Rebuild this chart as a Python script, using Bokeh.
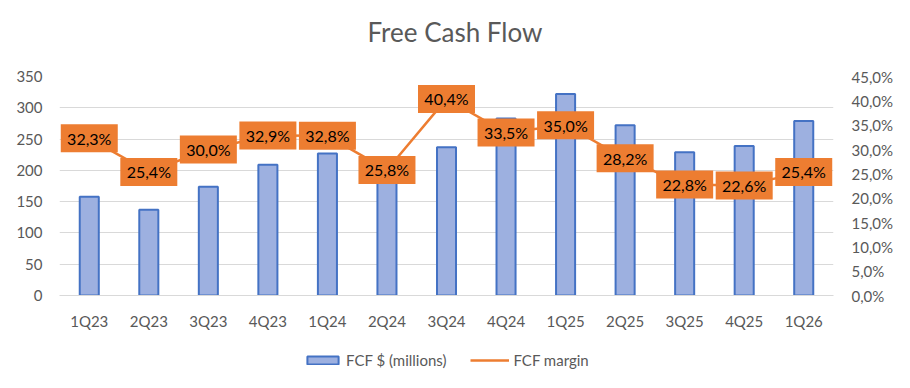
from bokeh.plotting import figure
from bokeh.layouts import column
from bokeh.models import (ColumnDataSource, FactorRange, Range1d, LinearAxis,
                          FixedTicker, CustomJSTickFormatter, Legend, LegendItem, Title)
from bokeh.core.properties import value
from bokeh.embed import file_html
from bokeh.resources import INLINE

quarters = ["1Q23", "2Q23", "3Q23", "4Q23", "1Q24", "2Q24", "3Q24",
            "4Q24", "1Q25", "2Q25", "3Q25", "4Q25", "1Q26"]
fcf = [158, 137, 174, 209, 227, 180, 237, 283, 322, 272, 229, 239, 279]
margin = [32.3, 25.4, 30.0, 32.9, 32.8, 25.8, 40.4, 33.5, 35.0, 28.2, 22.8, 22.6, 25.4]
left_ticks = [0, 50, 100, 150, 200, 250, 300, 350]
right_ticks = [0, 5, 10, 15, 20, 25, 30, 35, 40, 45]

FONT = "Lato"
GREY = "#595959"
ORANGE = "#ED7D31"
BAR_FILL = "#9db0e0"
BAR_LINE = "#4472c4"

labels = [f"{m:.1f}".replace(".", ",") + "%" for m in margin]
src = ColumnDataSource(dict(q=quarters, fcf=fcf, m=margin, lab=labels))

# title strip
tp = figure(frame_width=774, frame_height=1, output_backend="svg", toolbar_location=None,
            title=None, x_range=Range1d(0, 1), y_range=Range1d(0, 1),
            x_axis_location=None, y_axis_location=None,
            min_border_left=59, min_border_right=61, min_border_top=0, min_border_bottom=0)
tp.outline_line_color = None
tp.xgrid.visible = False
tp.ygrid.visible = False
tp.add_layout(Title(text="Free Cash Flow", align="left", offset=308, text_font=FONT,
                    text_font_size="26px", text_font_style="normal",
                    text_color=GREY, standoff=26), "above")

p = figure(x_range=FactorRange(*quarters), y_range=Range1d(0, 350), title=None,
           frame_width=774, frame_height=219, output_backend="svg", toolbar_location=None,
           min_border_left=59, min_border_right=61, min_border_top=15,
           min_border_bottom=45)
p.extra_y_ranges = {"pct": Range1d(0, 45)}

p.outline_line_color = None
p.xgrid.grid_line_color = None
p.ygrid.grid_line_color = "#d9d9d9"
p.ygrid.grid_line_width = 1

# left axis
ya = p.yaxis[0]
ya.ticker = FixedTicker(ticks=left_ticks)
ya.axis_line_color = None
ya.major_tick_line_color = None
ya.minor_tick_line_color = None
ya.major_tick_out = 0
ya.major_label_standoff = 17
ya.major_label_text_font = FONT
ya.major_label_text_font_size = "15px"
ya.major_label_text_color = GREY

# right axis
ra = LinearAxis(y_range_name="pct", ticker=FixedTicker(ticks=right_ticks),
                formatter=CustomJSTickFormatter(code="return tick.toFixed(1).replace('.', ',') + '%';"))
ra.axis_line_color = None
ra.major_tick_line_color = None
ra.minor_tick_line_color = None
ra.major_tick_out = 0
ra.major_label_standoff = 18
ra.major_label_text_font = FONT
ra.major_label_text_font_size = "15px"
ra.major_label_text_color = GREY
p.add_layout(ra, "right")

# x axis
xa = p.xaxis[0]
xa.axis_line_color = "#d9d9d9"
xa.axis_line_width = 1
xa.major_tick_line_color = None
xa.major_tick_out = 0
xa.major_label_standoff = 16
xa.major_label_text_font = FONT
xa.major_label_text_font_size = "15px"
xa.major_label_text_color = GREY

p.vbar(x="q", top="fcf", width=0.32, source=src,
       fill_color=BAR_FILL, line_color=BAR_LINE, line_width=2)
p.line(x="q", y="m", source=src, y_range_name="pct",
       line_color=ORANGE, line_width=2.5)
p.rect(x="q", y="m", width=57, height=28, width_units="screen", height_units="screen",
       source=src, y_range_name="pct", fill_color=ORANGE, line_color=None)
p.text(x="q", y="m", text="lab", source=src, y_range_name="pct",
       text_align="center", text_baseline="middle", text_font=value(FONT),
       text_font_size="16px", text_color="black")

# legend strip below the chart (its renderers use the same data, degenerate and out of view)
lg = figure(width=894, height=32, output_backend="svg", toolbar_location=None,
            title=None, x_range=FactorRange(*quarters), y_range=Range1d(1000, 1001),
            x_axis_location=None, y_axis_location=None,
            min_border=0, min_border_left=0, min_border_right=0,
            min_border_top=0, min_border_bottom=0)
lg.outline_line_color = None
lg.xgrid.visible = False
lg.ygrid.visible = False
r_bar = lg.vbar(x="q", bottom="fcf", top="fcf", width=0, source=src, fill_color=BAR_FILL,
                line_color=BAR_LINE, line_width=2)
r_line = lg.line(x="q", y="m", source=src, line_color=ORANGE, line_width=2.5)
legend = Legend(items=[LegendItem(label="FCF $ (millions)", renderers=[r_bar]),
                       LegendItem(label="FCF margin", renderers=[r_line])],
                orientation="horizontal", location=(244, 3),
                glyph_width=39, glyph_height=10, label_standoff=4, spacing=24,
                padding=4, margin=0, border_line_color=None,
                background_fill_alpha=0,
                label_text_font=FONT, label_text_font_size="15px",
                label_text_color=GREY, label_height=18)
lg.add_layout(legend, "center")

open("out.html", "w").write(file_html(column(tp, p, lg, spacing=0), INLINE))
